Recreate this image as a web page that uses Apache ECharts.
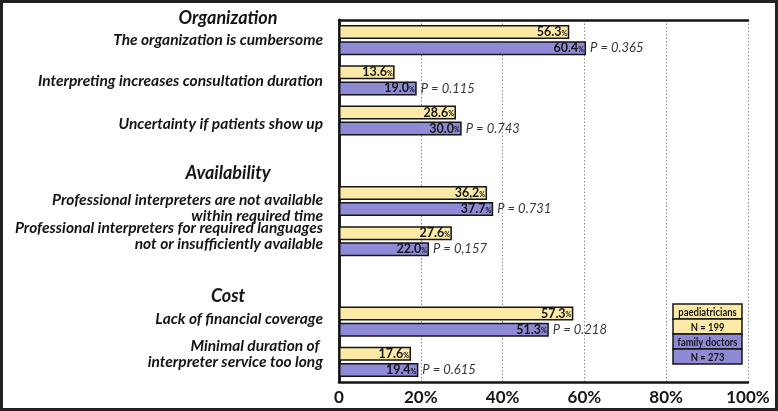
<!DOCTYPE html>
<html>
<head>
<meta charset="utf-8">
<script src="https://cdn.jsdelivr.net/npm/echarts@6/dist/echarts.min.js"></script>
<style>
html,body{margin:0;padding:0;background:#fff;}
#chart{width:778px;height:411px;}
</style>
</head>
<body>
<div id="chart"></div>
<script>
// ---- data ----
const categories = [
  'The organization is cumbersome',
  'Interpreting increases consultation duration',
  'Uncertainty if patients show up',
  'gap1',
  'Professional interpreters are not available\nwithin required time',
  'Professional interpreters for required languages\nnot or insufficiently available',
  'gap2',
  'Lack of financial coverage',
  'Minimal duration of \ninterpreter service too long'
];
const paediatricians = [56.3, 13.6, 28.6, null, 36.2, 27.6, null, 57.3, 17.6];
const familyDoctors = [60.4, 19.0, 30.0, null, 37.7, 22.0, null, 51.3, 19.4];
const paedLabels = ['56.3', '13.6', '28.6', '', '36,2', '27.6', '', '57.3', '17.6'];
const famLabels = ['60.4', '19.0', '30.0', '', '37.7', '22.0', '', '51.3', '19.4'];
const pValues = ['P = 0.365', 'P = 0.115', 'P = 0.743', '', 'P = 0.731', 'P = 0,157', '', 'P = 0.218', 'P = 0.615'];
const groupHeadings = ['Organization', 'Availability', 'Cost'];
const legendLines = ['paediatricians', 'N = 199', 'family doctors', 'N = 273'];

// ---- style ----
const FONT = 'Lato, "Open Sans", sans-serif';
const YELLOW = '#FDEAA6';
const BLUE = '#8F8AD6';
const INK = '#141414';

// vertical label nudges in px (+ = down)
const labelShift = [0, 1, 3, 0, 7, -5, 0, -3, -8];

const chart = echarts.init(document.getElementById('chart'), null, {renderer: 'canvas'});

function valueLabel(texts) {
  return {
    show: true,
    position: 'insideRight',
    distance: 2,
    formatter: p => texts[p.dataIndex] ? '{v|' + texts[p.dataIndex] + '}{s|%}' : '',
    rich: {
      v: {fontFamily: FONT, fontWeight: 'bold', fontSize: 12.5, color: INK},
      s: {fontFamily: FONT, fontWeight: 'bold', fontSize: 7, color: INK, padding: [3, 0, 0, 0]}
    }
  };
}

const yRich = {};
const lineStyle = {fontFamily: FONT, fontStyle: 'italic', fontWeight: 'bold', fontSize: 15.5, color: INK, lineHeight: 16};
yRich.t = lineStyle;
function catLabel(v, idx) {
  if (v.startsWith('gap')) return '';
  const s = labelShift[idx];
  const body = v.split('\n').map(l => '{t|' + l + '}').join('\n');
  if (s > 0) return '{g' + s + '| }\n' + body;
  if (s < 0) return body + '\n{g' + (-s) + '| }';
  return body;
}
labelShift.forEach(s => {
  const a = Math.abs(s);
  if (a) yRich['g' + a] = {fontSize: 1, lineHeight: 2 * a, height: 2 * a};
});

const option = {
  animation: false,
  backgroundColor: '#fff',
  grid: {left: 339, right: 30, top: 20, bottom: 29, containLabel: false},
  xAxis: [{
    type: 'value', min: 0, max: 100, interval: 20,
    axisLine: {show: true, lineStyle: {color: INK, width: 2.5}},
    axisTick: {show: false},
    axisLabel: {
      margin: 7,
      fontFamily: FONT, fontWeight: 'bold', fontSize: 17, color: INK,
      formatter: v => v === 0 ? '0' : v + '%'
    },
    splitLine: {show: true, lineStyle: {color: '#8a8a8a', type: [1.5, 2], width: 1}}
  }, {
    type: 'value', position: 'top', min: 0, max: 100,
    axisLine: {show: true, lineStyle: {color: INK, width: 2.5}},
    axisTick: {show: false}, axisLabel: {show: false}, splitLine: {show: false}
  }],
  yAxis: [{
    type: 'category', inverse: true,
    data: categories,
    axisLine: {show: true, lineStyle: {color: INK, width: 2.5}},
    axisTick: {show: false},
    axisLabel: {
      margin: 16,
      fontFamily: FONT, fontStyle: 'italic', fontWeight: 'bold', fontSize: 15.5, color: INK,
      lineHeight: 16, align: 'right',
      formatter: catLabel,
      rich: yRich
    },
    splitLine: {show: false}
  }, {
    type: 'category', inverse: true, position: 'right',
    data: categories,
    axisLine: {show: true, lineStyle: {color: INK, width: 2.5}},
    axisTick: {show: false}, axisLabel: {show: false}, splitLine: {show: false}
  }],
  series: [{
    name: 'paediatricians', type: 'bar',
    data: paediatricians,
    barWidth: 14, barGap: '15%',
    itemStyle: {color: YELLOW, borderColor: INK, borderWidth: 1.5},
    label: valueLabel(paedLabels)
  }, {
    name: 'family doctors', type: 'bar',
    data: familyDoctors,
    barWidth: 14, barGap: '15%',
    itemStyle: {color: BLUE, borderColor: INK, borderWidth: 1.5},
    label: valueLabel(famLabels)
  }, {
    name: 'p', type: 'scatter',
    data: familyDoctors.map((v, i) => v == null ? null : [v, i]),
    symbolSize: 0,
    silent: true,
    label: {
      show: true, position: 'right', distance: 4, offset: [0, 8],
      formatter: p => pValues[p.dataIndex],
      fontFamily: FONT, fontStyle: 'italic', fontSize: 13, color: '#000'
    }
  }],
  graphic: []
};

// headings
const headingY = [18, 173, 296];
groupHeadings.forEach((h, i) => {
  option.graphic.push({
    type: 'text', x: 228, y: headingY[i],
    style: {text: h, fontFamily: FONT, fontStyle: 'italic', fontWeight: 'bold', fontSize: 18, fill: INK,
      align: 'center', verticalAlign: 'middle'}
  });
});

// legend box
legendLines.forEach((t, i) => {
  option.graphic.push({
    type: 'rect', shape: {x: 673, y: 304 + i * 15, width: 69, height: 15},
    style: {fill: i < 2 ? YELLOW : BLUE, stroke: INK, lineWidth: 1.5}, z: 10
  });
  option.graphic.push({
    type: 'text', x: 707.5, y: 304 + i * 15 + 8, scaleX: 0.82,
    style: {text: t, fontFamily: FONT, fontWeight: 'bold', fontSize: 11.5, fill: INK,
      align: 'center', verticalAlign: 'middle'}, z: 11
  });
});

// outer frame
option.graphic.push({
  type: 'rect', shape: {x: 1.5, y: 1.5, width: 775, height: 408},
  style: {fill: 'none', stroke: '#222', lineWidth: 3}, z: 20
});

chart.setOption(option);
</script>
</body>
</html>
